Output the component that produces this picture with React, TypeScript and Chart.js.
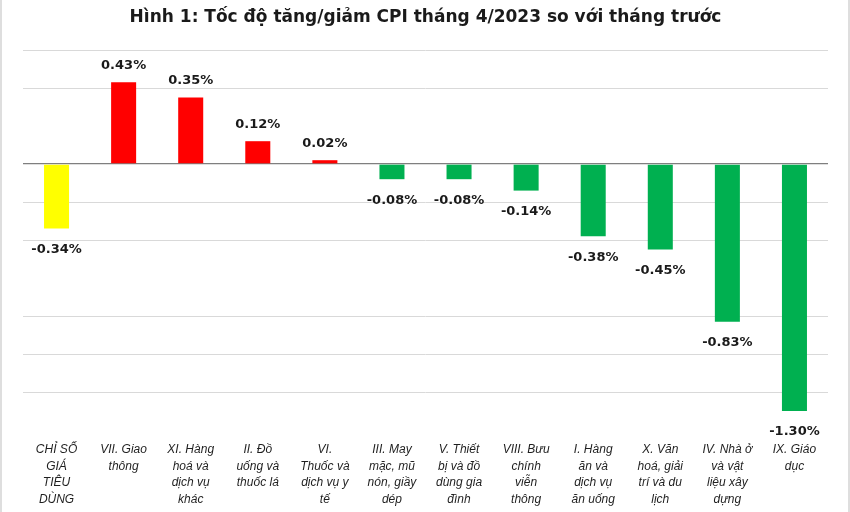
import { useEffect, useRef } from "react"
import { Chart, registerables } from "chart.js"

Chart.register(...registerables)

const chartTitle = "Hình 1: Tốc độ tăng/giảm CPI tháng 4/2023 so với tháng trước"

// category labels, already split into lines as in the source figure
const categories: string[][] = [
  ["CHỈ SỐ", "GIÁ", "TIÊU", "DÙNG"],
  ["VII. Giao", "thông"],
  ["XI. Hàng", "hoá và", "dịch vụ", "khác"],
  ["II. Đồ", "uống và", "thuốc lá"],
  ["VI.", "Thuốc và", "dịch vụ y", "tế"],
  ["III. May", "mặc, mũ", "nón, giầy", "dép"],
  ["V. Thiết", "bị và đồ", "dùng gia", "đình"],
  ["VIII. Bưu", "chính", "viễn", "thông"],
  ["I. Hàng", "ăn và", "dịch vụ", "ăn uống"],
  ["X. Văn", "hoá, giải", "trí và du", "lịch"],
  ["IV. Nhà ở", "và vật", "liệu xây", "dựng"],
  ["IX. Giáo", "dục"],
]

// % change vs previous month
const values = [-0.34, 0.43, 0.35, 0.12, 0.02, -0.08, -0.08, -0.14, -0.38, -0.45, -0.83, -1.3]

const barColors = [
  "#FFFF00",
  "#FF0000", "#FF0000", "#FF0000", "#FF0000",
  "#00B050", "#00B050", "#00B050", "#00B050", "#00B050", "#00B050", "#00B050",
]

// value labels above / below each bar
const valueLabelPlugin = {
  id: "valueLabels",
  afterDatasetsDraw(chart: Chart) {
    const { ctx } = chart
    const meta = chart.getDatasetMeta(0)
    ctx.save()
    ctx.font = 'bold 13px "DejaVu Sans"'
    ctx.fillStyle = "#1a1a1a"
    ctx.textAlign = "center"
    ctx.textBaseline = "middle"
    meta.data.forEach((bar, i) => {
      const v = values[i]
      const { x, y } = bar.getProps(["x", "y"], true)
      const ly = v >= 0 ? y - 17 : y + 21
      ctx.fillText(`${v.toFixed(2)}%`, x, ly)
    })
    ctx.restore()
  },
}

function isHiddenLine(v: number) {
  // these grid lines do not show in the original figure
  return [0.2, -0.6, -1.4].some((h) => Math.abs(h - v) < 1e-6)
}

function CpiChart() {
  const chartRef = useRef<HTMLCanvasElement>(null)
  const chartInstance = useRef<Chart | null>(null)

  useEffect(() => {
    if (!chartRef.current) return
    if (chartInstance.current) chartInstance.current.destroy()
    const ctx = chartRef.current.getContext("2d")
    if (!ctx) return

    chartInstance.current = new Chart(ctx, {
      type: "bar",
      data: {
        labels: categories,
        datasets: [
          {
            data: values,
            backgroundColor: barColors,
            borderWidth: 0,
            barPercentage: 0.373,
            categoryPercentage: 1,
          },
        ],
      },
      plugins: [valueLabelPlugin],
      options: {
        responsive: true,
        maintainAspectRatio: false,
        animation: false,
        layout: { padding: { left: 21, right: 20, top: 0, bottom: 4 } },
        plugins: {
          legend: { display: false },
          tooltip: { enabled: false },
          title: {
            display: true,
            text: chartTitle,
            color: "#1a1a1a",
            font: { family: "DejaVu Sans", size: 17, weight: "bold", lineHeight: 1.2 },
            padding: { top: 7, bottom: 22.6 },
          },
        },
        scales: {
          x: {
            grid: { display: false, drawTicks: false },
            border: { display: false },
            ticks: {
              color: "#1f1f1f",
              font: { family: "Liberation Sans", size: 12, style: "italic", lineHeight: 1.4 },
              padding: 11,
              maxRotation: 0,
              autoSkip: false,
            },
            afterFit: (scale: any) => {
              scale.height = 78
            },
          },
          y: {
            min: -1.4,
            max: 0.6,
            border: { display: false },
            grid: {
              drawTicks: false,
              color: (c: any) =>
                c.tick.value === 0 ? "#7f7f7f" : isHiddenLine(c.tick.value) ? "rgba(0,0,0,0)" : "#d9d9d9",
              lineWidth: (c: any) => (c.tick.value === 0 ? 1.3 : 1),
            },
            ticks: { display: false, stepSize: 0.2 },
          },
        },
      },
    })

    return () => {
      if (chartInstance.current) {
        chartInstance.current.destroy()
        chartInstance.current = null
      }
    }
  }, [])

  return <canvas ref={chartRef} />
}

export default function App() {
  return (
    <div
      style={{
        position: "absolute",
        left: 0,
        top: 0,
        width: 850,
        height: 512,
        boxSizing: "border-box",
        borderLeft: "2px solid #dedede",
        borderRight: "2px solid #dedede",
        background: "#fff",
      }}
    >
      <div style={{ position: "relative", width: "100%", height: "100%" }}>
        <CpiChart />
      </div>
    </div>
  )
}
